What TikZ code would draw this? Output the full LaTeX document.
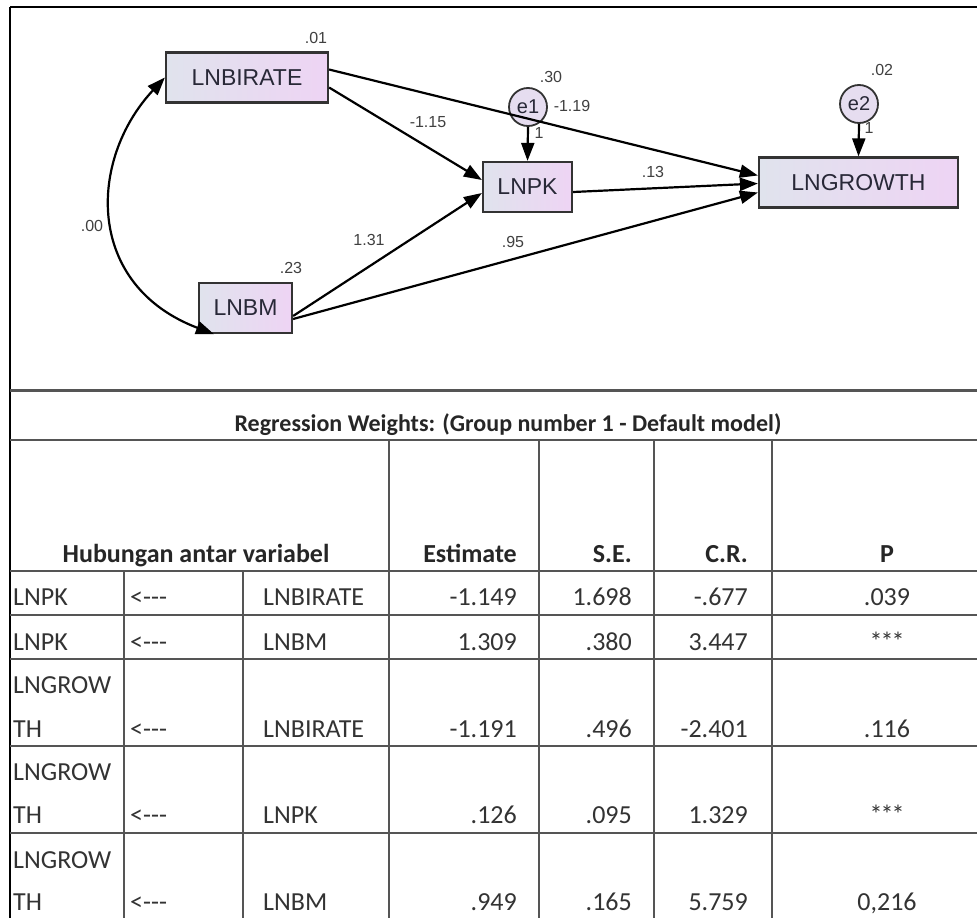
\documentclass[tikz,border=0pt]{standalone}
\usepackage{fontspec}
\setmainfont{Liberation Sans}
\newfontfamily\tabfont{Carlito}
\usetikzlibrary{arrows.meta,calc}
\definecolor{boxL}{RGB}{224,227,237}
\definecolor{boxR}{RGB}{238,212,244}
\definecolor{txt}{RGB}{40,40,55}
\definecolor{rulec}{RGB}{85,85,85}
\begin{document}
\begin{tikzpicture}[x=1pt,y=-1pt,
  var/.style={draw=black!80, line width=2.2pt, left color=boxL, right color=boxR, minimum height=50pt, inner sep=0pt, text=txt, font=\fontsize{23}{26}\selectfont},
  err/.style={circle, draw=black!80, line width=1.8pt, fill=boxL!60!boxR, minimum size=38pt, inner sep=0pt, text=txt, font=\fontsize{20}{22}\selectfont},
  arr/.style={line width=2.2pt, -{Triangle[length=18pt,width=13pt]}},
  lab/.style={text=black!75, font=\fontsize{16}{18}\selectfont, inner sep=0pt},
  th/.style={font=\tabfont\bfseries\fontsize{26}{30}\selectfont, inner sep=0pt, text=black!85},
  td/.style={font=\tabfont\fontsize{26}{30}\selectfont, inner sep=0pt, text=black!80},
  gridl/.style={draw=rulec, line width=2.4pt}]
\useasboundingbox (0,0) rectangle (977,918);
\fill[white] (0,0) rectangle (977,918);

% ---------- frame ----------
\draw[black, line width=2.4pt] (10,7) -- (977,7);
\draw[black, line width=2.6pt] (10,7) -- (10,918);

% ---------- diagram ----------
\node[var, minimum width=162pt] (bir) at (247,77.5) {LNBIRATE};
\node[var, minimum width=93pt] (bm) at (245.5,308) {LNBM};
\node[var, minimum width=89pt] (pk) at (527.5,187) {LNPK};
\node[var, minimum width=199pt] (gr) at (858.5,182.5) {LNGROWTH};
\node[err] (e1) at (528,107) {e1};
\node[err] (e2) at (859,104) {e2};

\draw[line width=2.2pt, {Triangle[length=18pt,width=13pt]}-{Triangle[length=18pt,width=13pt]}]
  (bir.west) .. controls (88,160) and (85,285) .. ([xshift=16pt]bm.south west);

\draw[arr] ([yshift=-10pt]bir.east) -- ([yshift=7pt]pk.west);
\draw[arr] ([yshift=-8pt]bm.east) -- ([yshift=-6pt]pk.west);
\draw[arr] ([yshift=8pt]bir.east) -- ([yshift=7pt]gr.west);
\draw[arr] ([yshift=-5pt]pk.east) -- ([yshift=-1pt]gr.west);
\draw[arr] ([yshift=-11pt]bm.east) -- ([yshift=-10pt]gr.west);
\draw[arr] (e1.south) -- (pk.north);
\draw[arr] (e2.south) -- (gr.north);

\node[lab] (v01) at (316,38) {.01};
\node[lab] (v23) at (291,268) {.23};
\node[lab] (v00) at (92,226) {.00};
\node[lab] (v30) at (551,77) {.30};
\node[lab] (v02) at (882,70) {.02};
\node[lab] (c115) at (428,122) {-1.15};
\node[lab] (c131) at (369,240) {1.31};
\node[lab] (c119) at (572,106) {-1.19};
\node[lab] (c13) at (653,172) {.13};
\node[lab] (c95) at (513,242) {.95};
\node[lab] (one1) at (539,133) {1};
\node[lab] (one2) at (869,128) {1};

% ---------- table lines ----------
\draw[gridl, line width=3pt] (10,390) -- (977,390);
\draw[gridl] (10,440) -- (977,440);
\foreach \yy in {571,615,659,746,833} { \draw[gridl] (10,\yy) -- (977,\yy); }
\foreach \xx in {124,243} { \draw[gridl] (\xx,571) -- (\xx,918); }
\foreach \xx in {389,539,654,772} { \draw[gridl] (\xx,440) -- (\xx,918); }

% ---------- table text ----------
\node[th, anchor=base, font=\tabfont\bfseries\fontsize{24}{28}\selectfont] (title) at (508,431) {Regression Weights: (Group number 1 - Default model)};
\node[th, anchor=base] (h1) at (196,562) {Hubungan antar variabel};
\node[th, anchor=base east] (h2) at (517,562) {Estimate};
\node[th, anchor=base east] (h3) at (632,562) {S.E.};
\node[th, anchor=base east] (h4) at (748,562) {C.R.};
\node[th, anchor=base] (h5) at (887,562) {P};

% row 1
\node[td, anchor=base west] (r1a) at (13,605) {LNPK};
\node[td, anchor=base west] (r1b) at (130,605) {<---};
\node[td, anchor=base west] (r1c) at (263,605) {LNBIRATE};
\node[td, anchor=base east] (r1d) at (517,605) {-1.149};
\node[td, anchor=base east] (r1e) at (632,605) {1.698};
\node[td, anchor=base east] (r1f) at (748,605) {-.677};
\node[td, anchor=base] (r1g) at (887,605) {.039};
% row 2
\node[td, anchor=base west] (r2a) at (13,650) {LNPK};
\node[td, anchor=base west] (r2b) at (130,650) {<---};
\node[td, anchor=base west] (r2c) at (263,650) {LNBM};
\node[td, anchor=base east] (r2d) at (517,650) {1.309};
\node[td, anchor=base east] (r2e) at (632,650) {.380};
\node[td, anchor=base east] (r2f) at (748,650) {3.447};
\node[td, anchor=base] (r2g) at (887,650) {*\kern-2pt*\kern-2pt*};
% row 3
\node[td, anchor=base west] (r3a) at (13,693) {LNGROW};
\node[td, anchor=base west] (r3a2) at (13,737) {TH};
\node[td, anchor=base west] (r3b) at (130,737) {<---};
\node[td, anchor=base west] (r3c) at (263,737) {LNBIRATE};
\node[td, anchor=base east] (r3d) at (517,737) {-1.191};
\node[td, anchor=base east] (r3e) at (632,737) {.496};
\node[td, anchor=base east] (r3f) at (748,737) {-2.401};
\node[td, anchor=base] (r3g) at (887,737) {.116};
% row 4
\node[td, anchor=base west] (r4a) at (13,780) {LNGROW};
\node[td, anchor=base west] (r4a2) at (13,823) {TH};
\node[td, anchor=base west] (r4b) at (130,823) {<---};
\node[td, anchor=base west] (r4c) at (263,823) {LNPK};
\node[td, anchor=base east] (r4d) at (517,823) {.126};
\node[td, anchor=base east] (r4e) at (632,823) {.095};
\node[td, anchor=base east] (r4f) at (748,823) {1.329};
\node[td, anchor=base] (r4g) at (887,823) {*\kern-2pt*\kern-2pt*};
% row 5
\node[td, anchor=base west] (r5a) at (13,868) {LNGROW};
\node[td, anchor=base west] (r5a2) at (13,910) {TH};
\node[td, anchor=base west] (r5b) at (130,910) {<---};
\node[td, anchor=base west] (r5c) at (263,910) {LNBM};
\node[td, anchor=base east] (r5d) at (517,910) {.949};
\node[td, anchor=base east] (r5e) at (632,910) {.165};
\node[td, anchor=base east] (r5f) at (748,910) {5.759};
\node[td, anchor=base] (r5g) at (887,910) {0,216};
\end{tikzpicture}
\end{document}
